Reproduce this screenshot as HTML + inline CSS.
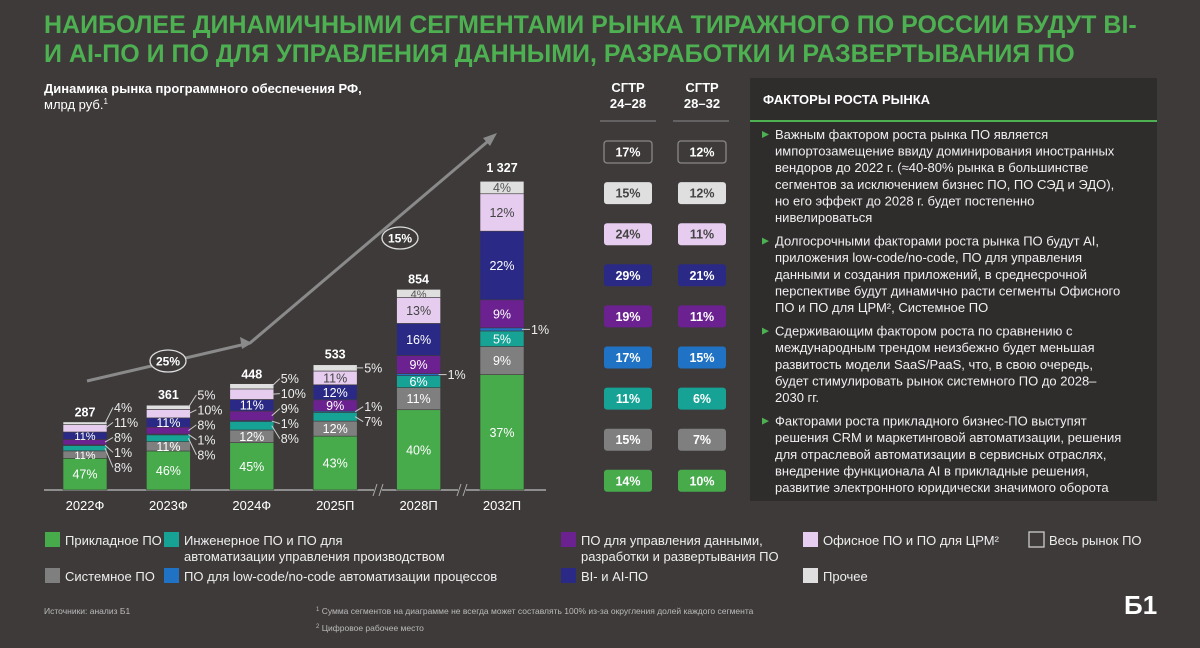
<!DOCTYPE html>
<html><head><meta charset="utf-8">
<style>
body{margin:0;background:#3e3a3a;}
svg{display:block;font-family:"Liberation Sans",sans-serif;}
.p{font-size:13px;fill:#f0f0f0;}
</style></head>
<body>
<svg id="s" width="1200" height="648" viewBox="0 0 1200 648" xmlns="http://www.w3.org/2000/svg">
<rect width="1200" height="648" fill="#3e3a3a"/>
<g font-weight="bold" font-size="25" fill="#4db051">
<text x="44" y="33">НАИБОЛЕЕ ДИНАМИЧНЫМИ СЕГМЕНТАМИ РЫНКА ТИРАЖНОГО ПО РОССИИ БУДУТ BI-</text>
<text x="44" y="62">И AI-ПО И ПО ДЛЯ УПРАВЛЕНИЯ ДАННЫМИ, РАЗРАБОТКИ И РАЗВЕРТЫВАНИЯ ПО</text>
</g>
<g fill="#fff" font-size="13">
<text x="44" y="93" font-weight="bold">Динамика рынка программного обеспечения РФ,</text>
<text x="44" y="109">млрд руб.<tspan font-size="8" dy="-5">1</tspan></text>
</g>
<g fill="#fff" font-size="13" font-weight="bold" text-anchor="middle">
<text x="628" y="92">СГТР</text><text x="628" y="108">24–28</text>
<text x="702" y="92">СГТР</text><text x="702" y="108">28–32</text>
<line x1="600" y1="121" x2="656" y2="121" stroke="#888"/>
<line x1="673" y1="121" x2="729" y2="121" stroke="#888"/>
</g>
<g id="cagr"></g>
<g id="chart"></g>
<g>
<rect x="750" y="78" width="407" height="423" fill="#2f2c2c"/>
<text x="763" y="104" fill="#fff" font-size="13" font-weight="bold">ФАКТОРЫ РОСТА РЫНКА</text>
<line x1="750" y1="121" x2="1157" y2="121" stroke="#4db051" stroke-width="2"/>
<g id="bullets"></g>
</g>
<g id="legend"></g>
<g fill="#bbb" font-size="8.5">
<text x="44" y="614">Источники: анализ Б1</text>
<text x="316" y="614"><tspan font-size="6" dy="-3">1</tspan><tspan dy="3"> Сумма сегментов на диаграмме не всегда может составлять 100% из-за округления долей каждого сегмента</tspan></text>
<text x="316" y="631"><tspan font-size="6" dy="-3">2</tspan><tspan dy="3"> Цифровое рабочее место</tspan></text>
</g>
<text x="1124" y="614" fill="#fff" font-size="26" font-weight="bold">Б1</text>
</svg>
<script>
const NS="http://www.w3.org/2000/svg";
const years=["2022Ф","2023Ф","2024Ф","2025П","2028П","2032П"];
const totals=[287,361,448,533,854,1327];
const shApplied=[47,46,45,43,40,37];
const shSystem=[11,11,12,12,11,9];
const shEngineering=[8,8,8,7,6,5];
const shLowcode=[1,1,1,1,1,1];
const shData=[8,8,9,9,9,9];
const shBI=[11,11,11,12,16,22];
const shOffice=[11,10,10,11,13,12];
const shOther=[4,5,5,5,4,4];
const cagr2428=["17%","15%","24%","29%","19%","17%","11%","15%","14%"];
const cagr2832=["12%","12%","11%","21%","11%","15%","6%","7%","10%"];
const trend=["25%","15%"];

const series=[shApplied,shSystem,shEngineering,shLowcode,shData,shBI,shOffice,shOther];
const colors=["#47ab4c","#7f7f7f","#16a395","#1f72c4","#6b2190","#2a2a86","#e6cdef","#dfdfdf"];
const txtCol=["#fff","#fff","#fff","#fff","#fff","#fff","#444","#555"];
const forceIn=[true,true,false,false,false,true,false,false];
const segNames=["applied","system","engineering","lowcode","data","bi","office","other"];

function mk(tag,attrs,parent,txt){const e=document.createElementNS(NS,tag);for(const k in attrs)e.setAttribute(k,attrs[k]);if(txt!==undefined)e.textContent=txt;parent.appendChild(e);return e;}
const chart=document.getElementById('chart');
const base=490,k=0.235,bw=44;
const xc=i=>85+i*83.4;
const yv=v=>base-v*k;

const tg=mk('g',{},chart);


mk('polyline',{points:"87,381 250,343 493,137",fill:"none",stroke:"#8a8a8a","stroke-width":3},tg);
mk('polygon',{points:"252,343 240,337 242,349",fill:"#8a8a8a"},tg);
mk('polygon',{points:"497,133 483,138 490,146",fill:"#8a8a8a"},tg);
[[168,361],[400,238]].forEach((p,i)=>{
  const e=mk('ellipse',{cx:p[0],cy:p[1],rx:18,ry:11,fill:"#3e3a3a",stroke:"#ddd","stroke-width":1.3},tg);
  
  
  mk('text',{x:p[0],y:p[1]+4.5,"text-anchor":"middle",fill:"#fff","font-size":12,"font-weight":"bold"},tg,trend[i]);
});

mk('line',{x1:44,y1:base,x2:546,y2:base,stroke:"#aaa","stroke-width":1.5},chart);
[378,462].forEach(x=>{mk('rect',{x:x-4,y:base-6,width:8,height:12,fill:"#3e3a3a"},chart);
 mk('line',{x1:x-5,y1:base+6,x2:x-1,y2:base-6,stroke:"#aaa"},chart);mk('line',{x1:x+1,y1:base+6,x2:x+5,y2:base-6,stroke:"#aaa"},chart);});

years.forEach((yr,i)=>{
  const g=mk('g',{},chart);
  
  
  const x0=xc(i)-bw/2;let acc=0;const outs=[];
  series.forEach((s,j)=>{
    const v=totals[i]*s[i]/100;
    const y1=yv(acc),y2=yv(acc+v);acc+=v;
    const r=mk('rect',{x:x0,y:y2,width:bw,height:Math.max(y1-y2,0.5),fill:colors[j],stroke:"#3e3a3a","stroke-width":0.6},g);
    
    
    const h=y1-y2,mid=(y1+y2)/2;
    const inside=h>=11||forceIn[j]||(j===7&&h>=7.5);
    if(inside) mk('text',{x:xc(i),y:mid+4.5,"text-anchor":"middle",fill:txtCol[j],"font-size":h<9?11:12.5},g,s[i]+"%");
    else outs.push({mid,y:mid,t:s[i]+"%",c:colors[j]});
  });
  for(let it=0;it<200;it++){for(let a=0;a<outs.length-1;a++){const d=outs[a].y-outs[a+1].y;if(d<15){const sh=(15-d)/2;outs[a].y+=sh;outs[a+1].y-=sh;}}}
  outs.forEach(o=>{
    mk('line',{x1:x0+bw-2,y1:o.mid,x2:x0+bw+6,y2:o.y,stroke:"#ccc","stroke-width":1},g);
    mk('text',{x:x0+bw+7,y:o.y+4.5,fill:"#eee","font-size":12.5},g,o.t);
  });
  mk('text',{x:xc(i),y:yv(totals[i])-6,"text-anchor":"middle",fill:"#fff","font-size":12.5,"font-weight":"bold"},g,totals[i]>=1000?(Math.floor(totals[i]/1000)+" "+String(totals[i]%1000).padStart(3,"0")):String(totals[i]));
  mk('text',{x:xc(i),y:510,"text-anchor":"middle",fill:"#fff","font-size":13},g,yr);
});

const cg=document.getElementById('cagr');
const boxFill=[null,"#dfdfdf","#e6cdef","#2a2a86","#6b2190","#1f72c4","#16a395","#7f7f7f","#47ab4c"];
const boxTxt=["#fff","#444","#444","#fff","#fff","#fff","#fff","#fff","#fff"];
[cagr2428,cagr2832].forEach((arr,c)=>{
  arr.forEach((v,r)=>{
    const cx=628+c*74,cy=152+r*41.1;
    const b=mk('rect',{x:cx-24,y:cy-11,width:48,height:22,rx:3,fill:boxFill[r]||"none",stroke:boxFill[r]?"none":"#888","stroke-width":1.3},cg);
    
    
    mk('text',{x:cx,y:cy+4.5,"text-anchor":"middle",fill:boxTxt[r],"font-size":12.5,"font-weight":"bold"},cg,v);
  });
});

const bl=[
["Важным фактором роста рынка ПО является","импортозамещение ввиду доминирования иностранных","вендоров до 2022 г. (≈40-80% рынка в большинстве","сегментов за исключением бизнес ПО, ПО СЭД и ЭДО),","но его эффект до 2028 г. будет постепенно","нивелироваться"],
["Долгосрочными факторами роста рынка ПО будут AI,","приложения low-code/no-code, ПО для управления","данными и создания приложений, в среднесрочной","перспективе будут динамично расти сегменты Офисного","ПО и ПО для ЦРМ², Системное ПО"],
["Сдерживающим фактором роста по сравнению с","международным трендом неизбежно будет меньшая","развитость модели SaaS/PaaS, что, в свою очередь,","будет стимулировать рынок системного ПО до 2028–","2030 гг."],
["Факторами роста прикладного бизнес-ПО выступят","решения CRM и маркетинговой автоматизации, решения","для отраслевой автоматизации в сервисных отраслях,","внедрение функционала AI в прикладные решения,","развитие электронного юридически значимого оборота"]];
const bg=document.getElementById('bullets');
let y=139;
bl.forEach(par=>{
  mk('polygon',{points:`762,${y-8} 769,${y-4.5} 762,${y-1}`,fill:"#4db051"},bg);
  par.forEach(l=>{mk('text',{x:775,y:y,class:"p"},bg,l);y+=16.6;});
  y+=7;
});

const lg=document.getElementById('legend');
const items=[
[44,540,"#47ab4c",["Прикладное ПО"]],
[163,540,"#16a395",["Инженерное ПО и ПО для","автоматизации управления производством"]],
[560,540,"#6b2190",["ПО для управления данными,","разработки и развертывания ПО"]],
[802,540,"#e6cdef",["Офисное ПО и ПО для ЦРМ²"]],
[1028,540,null,["Весь рынок ПО"]],
[44,576,"#7f7f7f",["Системное ПО"]],
[163,576,"#1f72c4",["ПО для low-code/no-code автоматизации процессов"]],
[560,576,"#2a2a86",["BI- и AI-ПО"]],
[802,576,"#dfdfdf",["Прочее"]]];
items.forEach(it=>{
  const g=mk('g',{},lg);
  
  
  mk('rect',{x:it[0]+1,y:it[1]-8,width:15,height:15,fill:it[2]||"none",stroke:it[2]?"none":"#ccc","stroke-width":1.3},g);
  it[3].forEach((l,n)=>mk('text',{x:it[0]+21,y:it[1]+5+n*16,fill:"#eee","font-size":13},g,l));
});
</script>
</body></html>
